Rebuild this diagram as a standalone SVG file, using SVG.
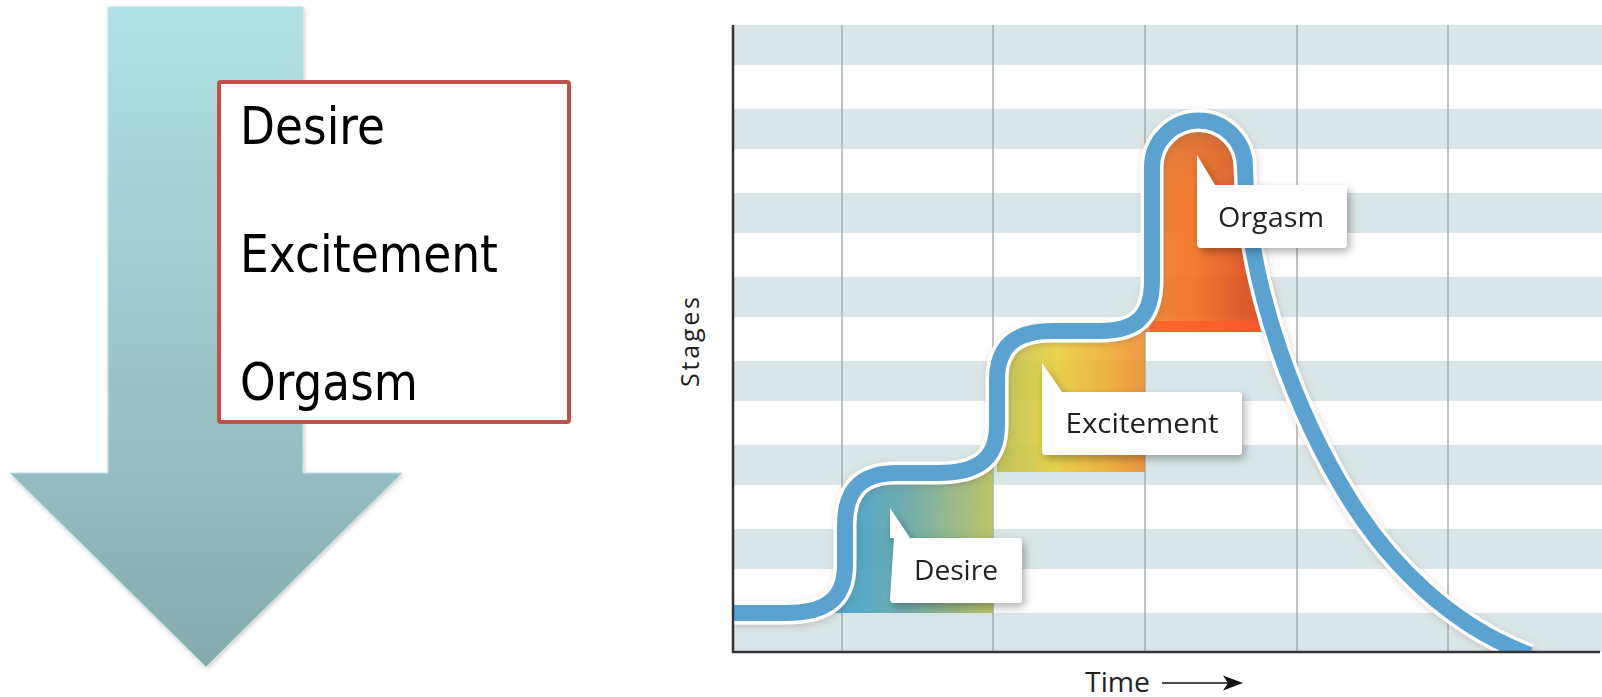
<svg xmlns="http://www.w3.org/2000/svg" width="1602" height="697" viewBox="0 0 1602 697">
<style>
.box-text{font-family:"DejaVu Sans",Verdana,sans-serif;font-size:52px;fill:#000}
.call-text{font-family:"Open Sans","Noto Sans",sans-serif;font-size:28px;fill:#222;text-anchor:middle}
.axis-text{font-family:"Open Sans","Noto Sans",sans-serif;fill:#222}
.stripe{fill:#D9E5E7}
.vgrid{stroke:#9BA6A9;stroke-width:1.3}
.axis{stroke:#333;stroke-width:2.5;fill:none}
.callout{fill:#fff}
</style>
<defs>
<linearGradient id="arrowGrad" x1="0" y1="7" x2="0" y2="667" gradientUnits="userSpaceOnUse">
<stop offset="0" stop-color="#B2E1E5"/>
<stop offset="0.7" stop-color="#96BDC0"/>
<stop offset="1" stop-color="#84AAAB"/>
</linearGradient>
<linearGradient id="desireGrad" x1="845" y1="0" x2="993" y2="0" gradientUnits="userSpaceOnUse">
<stop offset="0" stop-color="#3A9EC8"/>
<stop offset="0.45" stop-color="#66A6A2"/>
<stop offset="1" stop-color="#B6BF58"/>
</linearGradient>
<linearGradient id="exciteGrad" x1="997" y1="0" x2="1145" y2="0" gradientUnits="userSpaceOnUse">
<stop offset="0" stop-color="#BAC04E"/>
<stop offset="0.4" stop-color="#E8D03C"/>
<stop offset="0.75" stop-color="#F0AC32"/>
<stop offset="1" stop-color="#EC8E30"/>
</linearGradient>
<linearGradient id="orgGrad" x1="1152" y1="0" x2="1272" y2="0" gradientUnits="userSpaceOnUse">
<stop offset="0" stop-color="#EE7E28"/>
<stop offset="0.35" stop-color="#F56E1C"/>
<stop offset="0.75" stop-color="#DE4E18"/>
<stop offset="1" stop-color="#EE4412"/>
</linearGradient>
<linearGradient id="orgTop" x1="0" y1="125" x2="0" y2="200" gradientUnits="userSpaceOnUse">
<stop offset="0" stop-color="#C8642A" stop-opacity="0.6"/>
<stop offset="1" stop-color="#C8642A" stop-opacity="0"/>
</linearGradient>
<filter id="shadow" x="-20%" y="-20%" width="150%" height="160%">
<feDropShadow dx="3" dy="4" stdDeviation="4" flood-color="#000" flood-opacity="0.3"/>
</filter>
<filter id="arrowShadow" x="-10%" y="-10%" width="120%" height="120%">
<feDropShadow dx="1" dy="2" stdDeviation="2" flood-color="#000" flood-opacity="0.2"/>
</filter>
<filter id="glow" x="-10%" y="-10%" width="120%" height="120%">
<feDropShadow dx="1" dy="2" stdDeviation="3" flood-color="#805050" flood-opacity="0.25"/>
</filter>
<clipPath id="chartClip"><rect x="734" y="25" width="868" height="626"/></clipPath>
</defs>

<g id="stage-arrow">
<polygon points="108,7 303,7 303,473 402,473 206,667 10,473 108,473" fill="url(#arrowGrad)" stroke="#B9E3E6" stroke-width="1" filter="url(#arrowShadow)"/>
</g>

<g id="stage-list">
<rect x="219" y="82" width="350" height="340" rx="2" fill="#fff" stroke="#C0504D" stroke-width="4"/>
<text class="box-text" x="240" y="144" textLength="145" lengthAdjust="spacingAndGlyphs">Desire</text>
<text class="box-text" x="240" y="272" textLength="258" lengthAdjust="spacingAndGlyphs">Excitement</text>
<text class="box-text" x="240" y="400" textLength="178" lengthAdjust="spacingAndGlyphs">Orgasm</text>
</g>

<g id="chart-grid">
<rect x="734" y="25" width="868" height="627" fill="#fff"/>
<rect class="stripe" x="734" y="25" width="868" height="40"/>
<rect class="stripe" x="734" y="109" width="868" height="40"/>
<rect class="stripe" x="734" y="193" width="868" height="40"/>
<rect class="stripe" x="734" y="277" width="868" height="40"/>
<rect class="stripe" x="734" y="361" width="868" height="40"/>
<rect class="stripe" x="734" y="445" width="868" height="40"/>
<rect class="stripe" x="734" y="529" width="868" height="40"/>
<rect class="stripe" x="734" y="613" width="868" height="39"/>
<line class="vgrid" x1="842" y1="25" x2="842" y2="652"/>
<line class="vgrid" x1="993" y1="25" x2="993" y2="652"/>
<line class="vgrid" x1="1145" y1="25" x2="1145" y2="652"/>
<line class="vgrid" x1="1297" y1="25" x2="1297" y2="652"/>
<line class="vgrid" x1="1448" y1="25" x2="1448" y2="652"/>
</g>

<g id="stage-fills" opacity="0.9">
<path d="M 785 613 C 825 613 845 600 845 565 L 845 525 C 845 490 861 473 897 473 L 937 473 C 967 473 987 466 993 455 L 993 613 Z" fill="url(#desireGrad)"/>
<path d="M 997 472 L 997 380 C 997 345 1017 331 1052 331 L 1100 331 C 1125 331 1140 325 1145 318 L 1145 472 Z" fill="url(#exciteGrad)"/>
<path d="M 1100 332 C 1138 331 1152 315 1152 280 L 1152 167 A 46.5 46.5 0 0 1 1245 167 C 1246 230 1252 275 1262 305 L 1274 332 Z" fill="url(#orgGrad)"/>
<path d="M 1152 200 L 1152 167 A 46.5 46.5 0 0 1 1245 167 L 1246 200 Z" fill="url(#orgTop)"/>
<rect x="1150" y="321" width="122" height="11" fill="#FF4A12" opacity="0.75"/>
</g>

<g id="connectors" clip-path="url(#chartClip)">
<path d="M 733 613 L 785 613 C 825 613 845 600 845 565 L 845 525 C 845 490 861 473 897 473 L 937 473 C 977 473 997 460 997 425 L 997 380 C 997 345 1017 331 1052 331 L 1100 331 C 1138 331 1152 315 1152 280 L 1152 167 A 46.5 46.5 0 0 1 1245 167 C 1247 290 1300 420 1350 500 C 1390 564 1450 625 1530 655" fill="none" stroke="#fff" stroke-width="23" filter="url(#glow)"/>
<path d="M 733 613 L 785 613 C 825 613 845 600 845 565 L 845 525 C 845 490 861 473 897 473 L 937 473 C 977 473 997 460 997 425 L 997 380 C 997 345 1017 331 1052 331 L 1100 331 C 1138 331 1152 315 1152 280 L 1152 167 A 46.5 46.5 0 0 1 1245 167 C 1247 290 1300 420 1350 500 C 1390 564 1450 625 1530 655" fill="none" stroke="#5BA2D0" stroke-width="16"/>
</g>

<g id="axes">
<line class="axis" x1="733" y1="25" x2="733" y2="653"/>
<line class="axis" x1="732" y1="652" x2="1600" y2="652"/>
<text class="axis-text" font-size="25" transform="translate(699,342) rotate(-90)" text-anchor="middle" textLength="90" lengthAdjust="spacing">Stages</text>
<text class="axis-text" font-size="28" x="1085" y="692" textLength="65" lengthAdjust="spacingAndGlyphs">Time</text>
<line x1="1162" y1="683" x2="1230" y2="683" stroke="#111" stroke-width="1.6"/>
<polygon points="1243,683 1223,675.5 1228,683 1223,690.5" fill="#111"/>
</g>

<g id="callout-desire" filter="url(#shadow)">
<path class="callout" d="M 894 538 L 890 538 L 890 508 L 910 538 L 1018 538 Q 1022 538 1022 542 L 1022 599 Q 1022 603 1018 603 L 894 603 Q 890 603 890 599 Z"/>
<text class="call-text" x="956" y="580" textLength="84" lengthAdjust="spacingAndGlyphs">Desire</text>
</g>

<g id="callout-excitement" filter="url(#shadow)">
<path class="callout" d="M 1042 392 L 1042 363 L 1062 392 L 1238 392 Q 1242 392 1242 396 L 1242 451 Q 1242 455 1238 455 L 1046 455 Q 1042 455 1042 451 Z"/>
<text class="call-text" x="1142" y="433" textLength="153" lengthAdjust="spacingAndGlyphs">Excitement</text>
</g>

<g id="callout-orgasm" filter="url(#shadow)">
<path class="callout" d="M 1197 185 L 1197 155 L 1215 185 L 1343 185 Q 1347 185 1347 189 L 1347 244 Q 1347 248 1343 248 L 1201 248 Q 1197 248 1197 244 Z"/>
<text class="call-text" x="1271" y="227" textLength="106" lengthAdjust="spacingAndGlyphs">Orgasm</text>
</g>
</svg>
